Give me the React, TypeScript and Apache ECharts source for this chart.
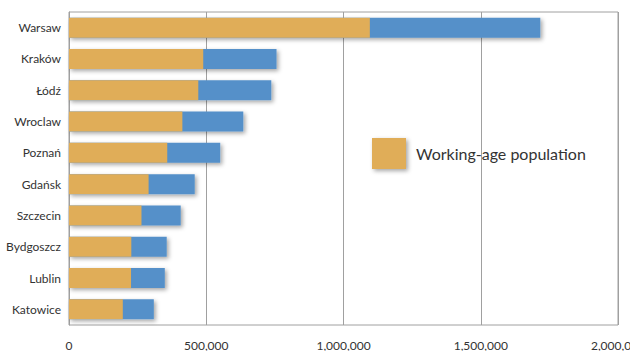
import React, { useEffect, useRef } from "react";
import * as echarts from "echarts";

const cities = ["Warsaw", "Kraków", "Łódź", "Wroclaw", "Poznań", "Gdańsk", "Szczecin", "Bydgoszcz", "Lublin", "Katowice"];
const totalPopulation = [1717000, 756000, 737000, 635000, 551000, 458000, 407000, 356000, 349000, 309000];
const workingAge = [1096000, 489000, 471000, 413000, 358000, 290000, 264000, 227000, 226000, 196000];
const xTicks = [0, 500000, 1000000, 1500000, 2000000];

const FONT = "Lato, 'Noto Sans', sans-serif";

export default function App() {
  const ref = useRef<HTMLDivElement>(null);
  useEffect(() => {
    document.body.style.margin = "0";
    const chart = echarts.init(ref.current!, null, { renderer: "svg" });
    const shadow = {
      shadowColor: "rgba(0,0,0,0.35)",
      shadowBlur: 4,
      shadowOffsetX: 2,
      shadowOffsetY: 2,
    };
    chart.setOption({
      animation: false,
      backgroundColor: "#ffffff",
      grid: {
        left: 69,
        right: 12,
        top: 12,
        bottom: 26,
        outerBoundsMode: "none",
        containLabel: false,
        show: true,
        borderColor: "#a0a0a0",
        borderWidth: 1,
      },
      legend: {
        data: ["Working-age population"],
        left: 367,
        top: 133,
        padding: 5,
        icon: "rect",
        itemWidth: 34,
        itemHeight: 31,
        itemGap: 10,
        textStyle: { fontFamily: FONT, fontSize: 16, color: "#333", padding: [4, 0, 0, 5] },
        itemStyle: { ...shadow },
      },
      xAxis: {
        type: "value",
        min: xTicks[0],
        max: xTicks[xTicks.length - 1],
        interval: xTicks[1] - xTicks[0],
        axisLine: { show: false },
        axisTick: { show: false },
        splitLine: { show: true, lineStyle: { color: "#a0a0a0", width: 1 } },
        axisLabel: {
          margin: 14,
          fontFamily: FONT,
          fontSize: 12,
          color: "#333",
          hideOverlap: false,
          formatter: (v: number) => v.toLocaleString("en-US"),
        },
      },
      yAxis: {
        type: "category",
        data: cities,
        inverse: true,
        axisTick: { show: false },
        axisLine: { show: true, lineStyle: { color: "#a0a0a0" } },
        axisLabel: { margin: 8, fontFamily: FONT, fontSize: 12, color: "#333" },
      },
      series: [
        {
          name: "Total population",
          type: "bar",
          data: totalPopulation,
          barWidth: 20,
          barGap: "-100%",
          itemStyle: { color: "#5490c9", ...shadow },
          z: 2,
        },
        {
          name: "Working-age population",
          type: "bar",
          data: workingAge,
          barWidth: 20,
          itemStyle: { color: "#e0ad58" },
          z: 3,
        },
      ],
    });
    return () => chart.dispose();
  }, []);
  return <div ref={ref} style={{ width: 630, height: 351, position: "absolute", left: 0, top: 0 }} />;
}
